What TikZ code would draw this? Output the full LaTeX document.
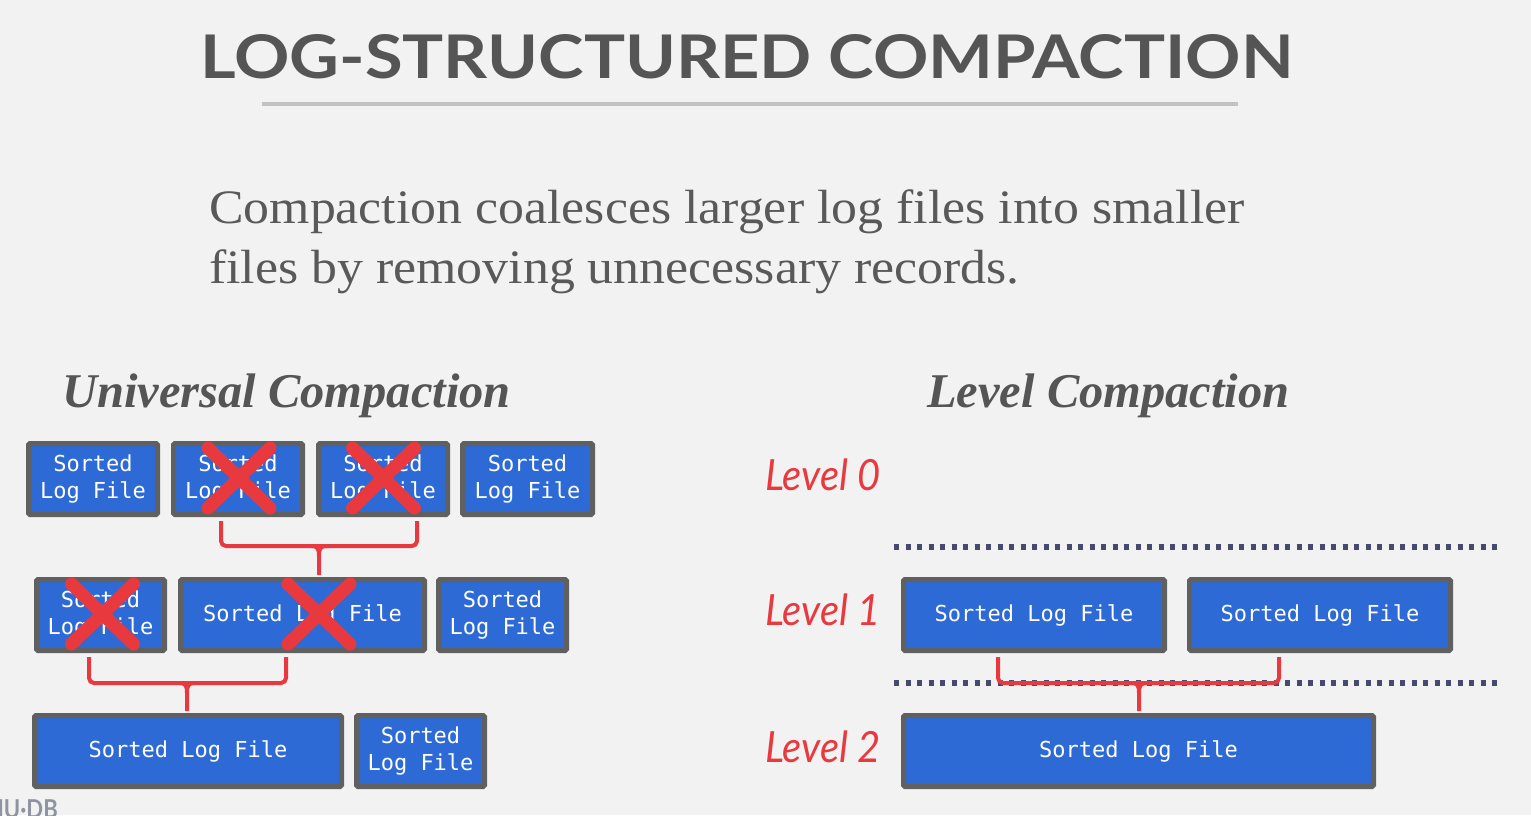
\documentclass[tikz,border=0pt]{standalone}
\usepackage{fontspec}
\usepackage{graphicx}
\setmainfont{Liberation Serif}
\newfontfamily\titlefont{Lato}
\newfontfamily\monofont{DejaVu Sans Mono}
\newfontfamily\levelfont{Lato}
\usetikzlibrary{calc}
\definecolor{bg}{HTML}{F2F2F2}
\definecolor{boxblue}{HTML}{2D6AD6}
\definecolor{boxborder}{HTML}{606060}
\definecolor{xred}{HTML}{E8393F}
\definecolor{titlegray}{HTML}{555555}
\definecolor{textgray}{HTML}{595959}
\definecolor{rulegray}{HTML}{C2C2C2}
\definecolor{dotnavy}{HTML}{464A6E}
\definecolor{logogray}{HTML}{8E94A0}
\begin{document}
\begin{tikzpicture}[x=1pt,y=-1pt,
  filebox/.style={draw=boxborder, line width=5pt, fill=boxblue, text=white,
    font=\monofont\fontsize{22}{27}\selectfont, align=center, inner sep=0pt,
    minimum height=71pt, rounded corners=1.5pt},
  crossmark/.style={draw=xred, line width=13pt, line cap=round},
  bracket/.style={draw=xred, line width=4pt, rounded corners=5pt},
  levelsep/.style={draw=dotnavy, line width=6pt, dash pattern=on 5pt off 6.5pt},
  levellabel/.style={text=xred, anchor=base west, inner sep=0pt,
    font=\levelfont\itshape\fontsize{43}{43}\selectfont},
  heading/.style={text=titlegray, anchor=base west, inner sep=0pt,
    font=\bfseries\itshape\fontsize{48.5}{48.5}\selectfont}
]
\useasboundingbox (0,0) rectangle (1531,815);
\fill[bg] (0,0) rectangle (1531,815);

% title
\node[anchor=base west, inner sep=0pt, text=titlegray] (title) at (200,78)
  {\resizebox{1093pt}{44pt}{\titlefont\bfseries LOG-STRUCTURED COMPACTION}};
\draw[rulegray, line width=4pt] (262,104) -- (1238,104);

% body text
\node[anchor=base west, inner sep=0pt, text=textgray, align=left,
  font=\fontsize{48}{60}\selectfont] (body1) at (209,223)
  {\scalebox{1.08}[1]{Compaction coalesces larger log files into smaller}};
\node[anchor=base west, inner sep=0pt, text=textgray, align=left,
  font=\fontsize{48}{60}\selectfont] (body2) at (209,283)
  {\scalebox{1.08}[1]{files by removing unnecessary records.}};

% headings
\node[heading] (uhead) at (62,407) {Universal Compaction};
\node[heading] (lhead) at (927,407) {Level Compaction};

% universal compaction boxes
\node[filebox, minimum width=129pt] (u1) at (93,479) {Sorted\\Log File};
\node[filebox, minimum width=129pt] (u2) at (238,479) {Sorted\\Log File};
\node[filebox, minimum width=129pt] (u3) at (383,479) {Sorted\\Log File};
\node[filebox, minimum width=130pt] (u4) at (527.5,479) {Sorted\\Log File};
\node[filebox, minimum width=128pt] (uA) at (100.5,615) {Sorted\\Log File};
\node[filebox, minimum width=244pt] (uB) at (302.5,615) {Sorted Log File};
\node[filebox, minimum width=128pt] (uC) at (502.5,615) {Sorted\\Log File};
\node[filebox, minimum width=307pt] (uD) at (188,751) {Sorted Log File};
\node[filebox, minimum width=128pt] (uE) at (420.5,751) {Sorted\\Log File};

% crosses
\foreach \n/\dx in {u2/1, u3/0.5, uA/2, uB/16.5} {
  \draw[crossmark] ($(\n)+(\dx-31,-31)$) -- ($(\n)+(\dx+31,29)$);
  \draw[crossmark] ($(\n)+(\dx+31,-31)$) -- ($(\n)+(\dx-31,29)$);
}

% brackets (universal)
\coordinate (b1l) at (221,521);
\coordinate (b1r) at (417,521);
\draw[bracket] (b1l) -- (221,546) -- (417,546) -- (b1r);
\draw[xred, line width=4pt] (311,546) .. controls (318,546) and (319,549) .. (319,556) -- (319,575);
\draw[xred, line width=4pt] (327,546) .. controls (320,546) and (319,549) .. (319,556);

\coordinate (b2l) at (89,657);
\coordinate (b2r) at (286,657);
\draw[bracket] (b2l) -- (89,683) -- (286,683) -- (b2r);
\draw[xred, line width=4pt] (179,683) .. controls (186,683) and (187,686) .. (187,693) -- (187,711);
\draw[xred, line width=4pt] (195,683) .. controls (188,683) and (187,686) .. (187,693);

% level compaction
\draw[levelsep] (894,547) -- (1500,547);
\draw[levelsep] (894,683) -- (1500,683);

\node[levellabel] (lv0) at (765,490) {\scalebox{0.93}[1]{Level 0}};
\node[levellabel] (lv1) at (765,625) {\scalebox{0.93}[1]{Level 1}};
\node[levellabel] (lv2) at (765,762) {\scalebox{0.93}[1]{Level 2}};

\node[filebox, minimum width=261pt] (l1a) at (1034,615) {Sorted Log File};
\node[filebox, minimum width=261pt] (l1b) at (1320,615) {Sorted Log File};
\node[filebox, minimum width=470pt] (l2) at (1138.5,751) {Sorted Log File};

\coordinate (b3l) at (998,657);
\coordinate (b3r) at (1279,657);
\draw[bracket] (b3l) -- (998,683) -- (1279,683) -- (b3r);
\draw[xred, line width=4pt] (1131,683) .. controls (1138,683) and (1139,686) .. (1139,693) -- (1139,711);
\draw[xred, line width=4pt] (1147,683) .. controls (1140,683) and (1139,686) .. (1139,693);

% logo (cut off at page edge, as in the reference)
\node[anchor=base east, inner sep=0pt, text=logogray,
  font=\levelfont\bfseries\fontsize{26}{26}\selectfont] (logo) at (58,818)
  {\scalebox{0.85}[1]{CMU·DB}};
\end{tikzpicture}
\end{document}
